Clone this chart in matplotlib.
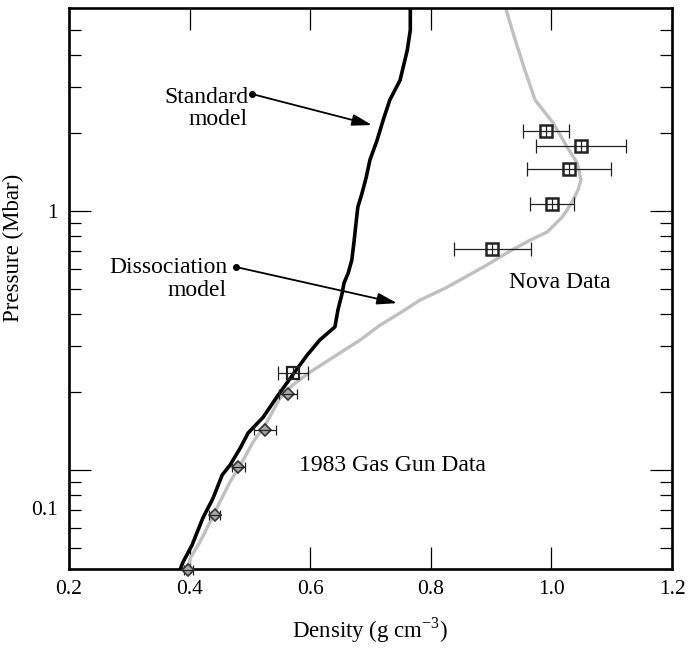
import matplotlib
matplotlib.use("Agg")
import matplotlib.pyplot as plt
from matplotlib.ticker import FixedLocator, NullFormatter
import matplotlib.transforms as mtransforms

# ---------------- data ----------------
# Standard model (black)
std_density = [0.384, 0.389, 0.404, 0.422, 0.439, 0.454, 0.467, 0.484, 0.497, 0.522,
               0.547, 0.571, 0.595, 0.616, 0.641, 0.646, 0.653, 0.656, 0.663, 0.669,
               0.673, 0.676, 0.679, 0.686, 0.693, 0.699, 0.711, 0.721, 0.732, 0.749,
               0.761, 0.766, 0.766]
std_pressure = [0.0411, 0.0441, 0.0513, 0.0653, 0.0780, 0.0957, 0.1045, 0.1216, 0.139, 0.160,
                0.195, 0.233, 0.278, 0.318, 0.357, 0.415, 0.482, 0.527, 0.576, 0.647,
                0.773, 0.899, 1.036, 1.173, 1.353, 1.574, 1.88, 2.245, 2.683, 3.2,
                4.18, 5.0, 6.2]

# Dissociation model (grey)
dis_density = [0.396, 0.401, 0.417, 0.434, 0.450, 0.467, 0.487, 0.505, 0.528, 0.550,
               0.571, 0.600, 0.649, 0.683, 0.716, 0.749, 0.782, 0.824, 0.848, 0.893,
               0.926, 0.965, 0.993, 1.018, 1.026, 1.036, 1.044, 1.049, 1.043, 1.026,
               1.003, 0.973, 0.956, 0.940, 0.923]
dis_pressure = [0.0404, 0.0457, 0.0527, 0.0630, 0.0752, 0.0899, 0.1074, 0.128, 0.153, 0.190,
                0.213, 0.239, 0.283, 0.318, 0.363, 0.404, 0.453, 0.504, 0.541, 0.619,
                0.689, 0.773, 0.830, 0.948, 1.009, 1.103, 1.205, 1.317, 1.532, 1.766,
                2.187, 2.683, 3.50, 4.57, 6.2]

# Nova data (squares)
nova_density = [0.991, 1.049, 1.029, 1.001, 0.902]
nova_pressure = [2.042, 1.782, 1.449, 1.061, 0.713]
nova_err = [0.038, 0.075, 0.070, 0.036, 0.064]

# 1983 gas gun data
gg_sq_density = [0.5715]
gg_sq_pressure = [0.2368]
gg_sq_err = [0.025]
gg_density = [0.5627, 0.525, 0.4808, 0.442, 0.398]
gg_pressure = [0.1965, 0.1427, 0.1030, 0.0670, 0.0411]
gg_err = [0.015, 0.019, 0.011, 0.009, 0.008]

x_ticks = [0.2, 0.4, 0.6, 0.8, 1.0, 1.2]
x_ticklabels = ["0.2", "0.4", "0.6", "0.8", "1.0", "1.2"]

# ---------------- style ----------------
plt.rcParams['font.family'] = ['Liberation Serif', 'DejaVu Serif']
plt.rcParams['mathtext.fontset'] = 'custom'
plt.rcParams['mathtext.rm'] = 'Liberation Serif'

fig = plt.figure(figsize=(6.88, 6.5), dpi=100)
ax = fig.add_axes([69/688, (650-569)/650, (672-69)/688, (569-8)/650])

ax.set_yscale('log')
ax.set_xlim(0.2, 1.2)
ax.set_ylim(0.0415, 6.08)

ax.plot(dis_density, dis_pressure, color='#c0c0c0', lw=2.4, zorder=2)
ax.plot(std_density, std_pressure, color='black', lw=2.6, zorder=3)

# Nova squares
ax.errorbar(nova_density, nova_pressure, xerr=nova_err, fmt='none', ecolor='#222222',
            elinewidth=0.9, capsize=4.8, capthick=0.9, zorder=4)
ax.plot(nova_density, nova_pressure, ls='none', marker='s', ms=9, mfc='none',
        mec='#222222', mew=1.8, zorder=5)
ax.plot(nova_density, nova_pressure, ls='none', marker='|', ms=9, mec='#222222',
        mew=0.9, zorder=5)

# Gas gun square
ax.errorbar(gg_sq_density, gg_sq_pressure, xerr=gg_sq_err, fmt='none', ecolor='#222222',
            elinewidth=0.9, capsize=4.8, capthick=0.9, zorder=4)
ax.plot(gg_sq_density, gg_sq_pressure, ls='none', marker='s', ms=9, mfc='none',
        mec='#222222', mew=1.6, zorder=5)
ax.plot(gg_sq_density, gg_sq_pressure, ls='none', marker='|', ms=9, mec='#222222',
        mew=0.9, zorder=5)

# Gas gun diamonds
ax.errorbar(gg_density, gg_pressure, xerr=gg_err, fmt='none', ecolor='#222222',
            elinewidth=0.9, capsize=3.5, capthick=0.9, zorder=4, clip_on=False)
ax.plot(gg_density, gg_pressure, ls='none', marker='D', ms=6.5, mfc='#a8a8a8',
        mec='#333333', mew=1.2, zorder=5, clip_on=False)
ax.plot(gg_density, gg_pressure, ls='none', marker='_', ms=8, mec='#222222',
        mew=0.9, zorder=6, clip_on=False)

# ticks
ax.set_xticks(x_ticks)
ax.set_xticklabels(x_ticklabels)
ax.yaxis.set_major_locator(FixedLocator([0.1, 1.0]))
ax.set_yticklabels(["", "1"])
minor = [0.05, 0.06, 0.07, 0.08, 0.09, 0.2, 0.3, 0.4, 0.5, 0.6, 0.7, 0.8, 0.9, 2, 3, 4, 5]
ax.yaxis.set_minor_locator(FixedLocator(minor))
ax.yaxis.set_minor_formatter(NullFormatter())
ax.tick_params(axis='both', which='major', direction='in', length=15.8, width=0.9,
               top=True, right=True, labelsize=15.5, pad=8)
ax.tick_params(axis='y', which='minor', direction='in', length=8.5, width=0.9,
               left=True, right=True)
ax.tick_params(axis='x', which='minor', bottom=False, top=False)
for s in ax.spines.values():
    s.set_linewidth(1.9)

# "0.1" label placed where the original shows it
trans = mtransforms.blended_transform_factory(ax.transAxes, ax.transData)
ax.text(-0.018, 0.07, "0.1", transform=trans, ha='right', va='center', fontsize=15.5)

ax.set_xlabel("Density (g cm$^{-3}$)", fontsize=16.5, labelpad=12)
ax.set_ylabel("Pressure (Mbar)", fontsize=16.5)
ax.yaxis.set_label_coords(-0.075, 0.572)

# annotations
ax.text(0.497, 2.487, "Standard\nmodel", ha='right', va='center', fontsize=17,
        linespacing=1.1, multialignment='right')
ax.annotate("", xy=(0.7025, 2.148), xytext=(0.5035, 2.83),
            arrowprops=dict(arrowstyle='-|>,head_length=1.2,head_width=0.35', color='black',
                            lw=1.3, shrinkA=0, shrinkB=0))
ax.plot([0.5035], [2.83], marker='o', ms=4, color='black')

ax.text(0.462, 0.546, "Dissociation\nmodel", ha='right', va='center', fontsize=17,
        linespacing=1.1, multialignment='right')
ax.annotate("", xy=(0.744, 0.441), xytext=(0.477, 0.608),
            arrowprops=dict(arrowstyle='-|>,head_length=1.2,head_width=0.35', color='black',
                            lw=1.3, shrinkA=0, shrinkB=0))
ax.plot([0.477], [0.608], marker='o', ms=4, color='black')

ax.text(1.014, 0.532, "Nova Data", ha='center', va='center', fontsize=17)
ax.text(0.7357, 0.1045, "1983 Gas Gun Data", ha='center', va='center', fontsize=17)

fig.savefig("out.png", dpi=100)
